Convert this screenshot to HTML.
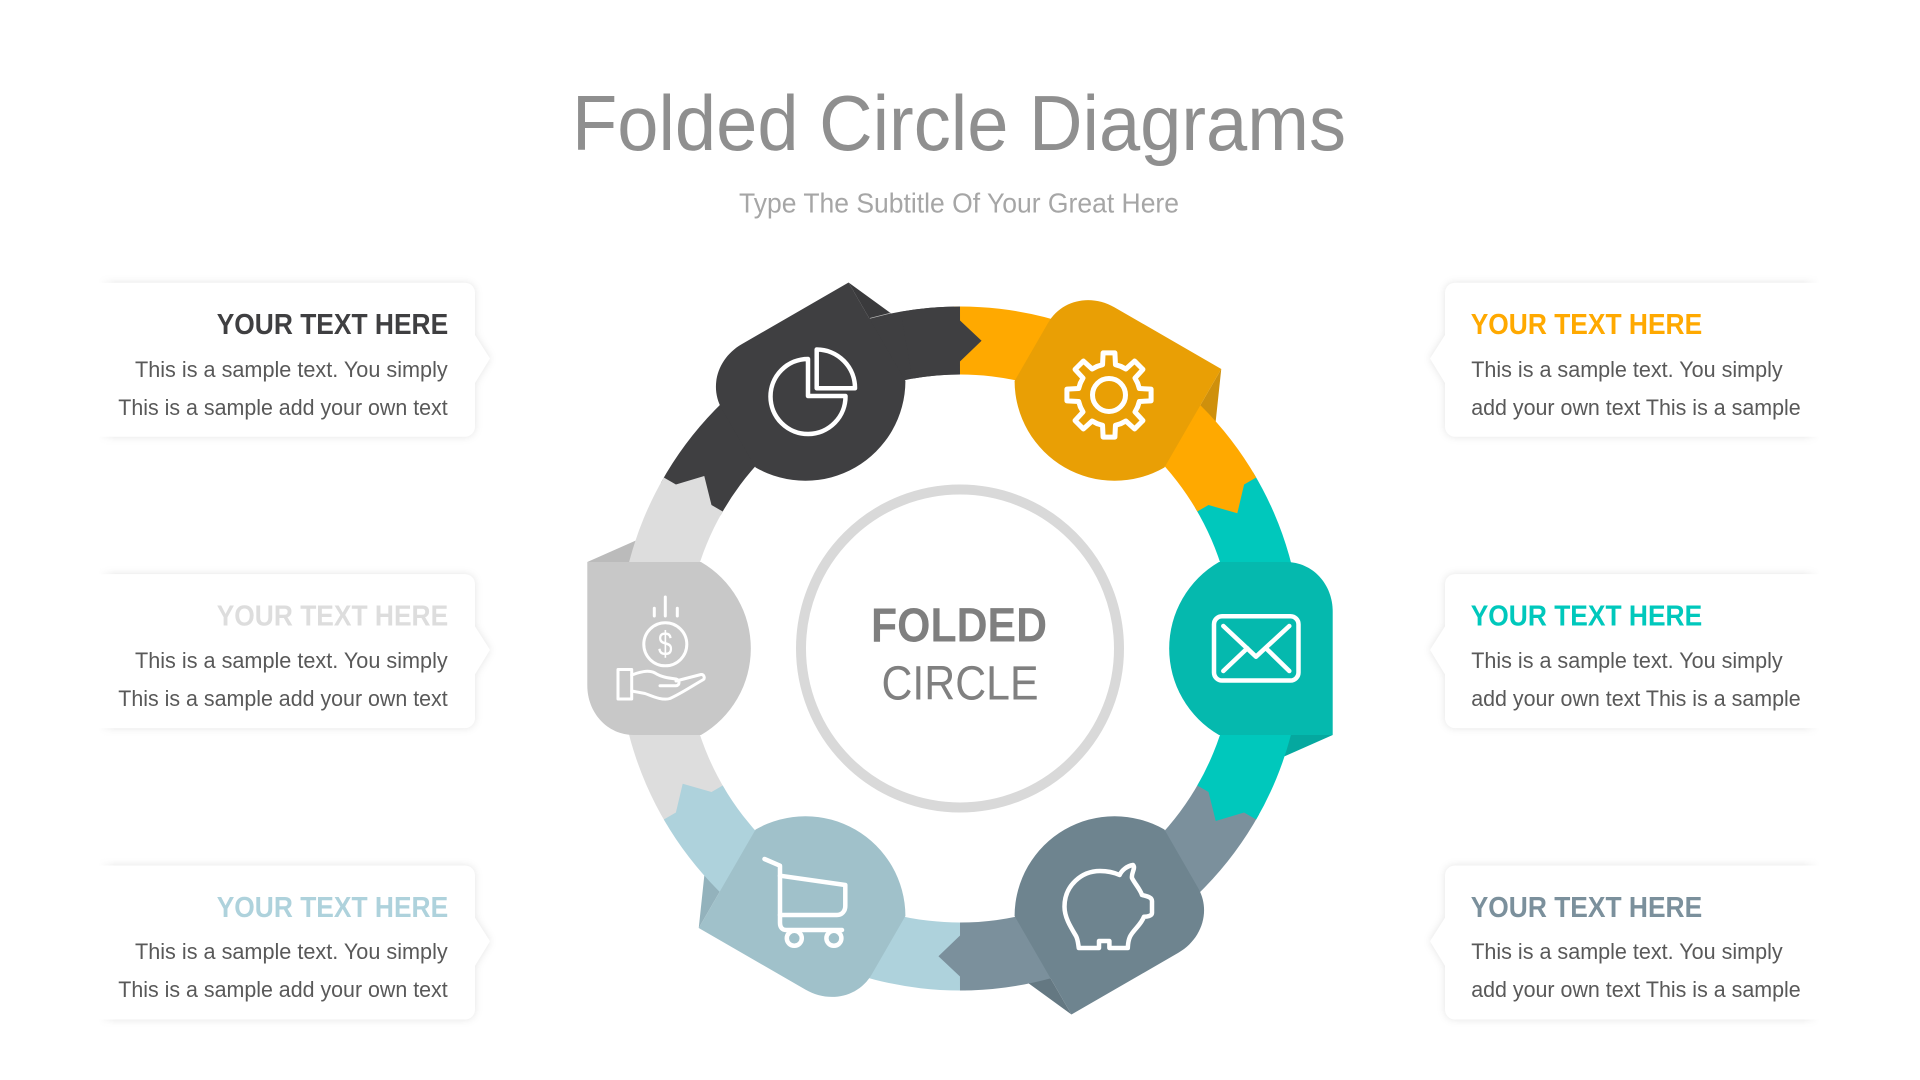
<!DOCTYPE html>
<html>
<head>
<meta charset="utf-8">
<title>Folded Circle Diagrams</title>
<style>
html,body{margin:0;padding:0;background:#fff;width:1920px;height:1080px;overflow:hidden}
svg{display:block}
text{font-family:"Liberation Sans",sans-serif}
.h{font-size:29px;font-weight:bold}
.b{font-size:22px;fill:#595959}
.ic{fill:none;stroke:#fff;stroke-width:4.5;stroke-linejoin:round;stroke-linecap:round}
.ic2{fill:none;stroke:#fff;stroke-width:3;stroke-linejoin:round;stroke-linecap:round}
.card{fill:#fff;filter:drop-shadow(0 0 4px rgba(0,0,0,.11))}
</style>
</head>
<body>
<svg width="1920" height="1080" viewBox="0 0 1920 1080" xmlns="http://www.w3.org/2000/svg">
<defs>
<linearGradient id="fl"><stop offset="0" stop-color="#fff"/><stop offset="0.45" stop-color="#fff"/><stop offset="1" stop-color="#fff" stop-opacity="0"/></linearGradient>
<linearGradient id="fr"><stop offset="0" stop-color="#fff" stop-opacity="0"/><stop offset="0.55" stop-color="#fff"/><stop offset="1" stop-color="#fff"/></linearGradient>
<path id="seg" d="M-5.97,-341.95 A342,342 0 0 1 296.2,-171 L284.1,-164 L277.3,-135.2 L248.5,-143.5 L237.3,-137 A274,274 0 0 0 -4.78,-273.96 Z"/>
<path id="node" d="M259,-86.5 H326 C353,-86.5 372.7,-64 372.7,-37 V86.5 H259 A100,100 0 0 1 259,-86.5 Z"/>
<path id="fold" d="M372.7,86.5 L324.7,107.8 L310,107.8 L310,86.5 Z"/>
<path id="card" d="M95,282.7 H465 a10,10 0 0 1 10,10 V335 L490,358.5 L475,383 V426.7 a10,10 0 0 1 -10,10 H95 Z"/>
<path id="cardr" d="M1825,282.7 H1455 a10,10 0 0 0 -10,10 V335 L1430,358.5 L1445,383 V426.7 a10,10 0 0 0 10,10 H1825 Z"/>
<polyline id="tooth" points="-11.86,-28.64 -6.45,-30.32 -5.91,-42.09 5.91,-42.09 6.45,-30.32 11.86,-28.64"/>
</defs>

<!-- Title -->
<text x="572" y="150" font-size="78" fill="#8f8f8f" textLength="774" lengthAdjust="spacingAndGlyphs">Folded Circle Diagrams</text>
<text x="739" y="212.5" font-size="28" fill="#a6a6a6" textLength="440" lengthAdjust="spacingAndGlyphs">Type The Subtitle Of Your Great Here</text>

<!-- Fold triangles, beneath the ring -->
<g transform="translate(960,648.5)">
<use href="#fold" transform="rotate(0)" fill="#05A89F"/>
<use href="#fold" transform="rotate(-60)" fill="#CF900C"/>
<use href="#fold" transform="rotate(-120)" fill="#3A3A3C"/>
<use href="#fold" transform="rotate(180)" fill="#BBBBBB"/>
<use href="#fold" transform="rotate(120)" fill="#93B2BC"/>
<use href="#fold" transform="rotate(60)" fill="#647882"/>
</g>

<!-- Ring segments -->
<g transform="translate(960,648.5)">
<use href="#seg" transform="rotate(300)" fill="#3F3F41"/>
<use href="#seg" transform="rotate(240)" fill="#DDDDDD"/>
<use href="#seg" transform="rotate(180)" fill="#AED2DC"/>
<use href="#seg" transform="rotate(120)" fill="#7B909C"/>
<use href="#seg" transform="rotate(60)" fill="#00C8BC"/>
<use href="#seg" transform="rotate(0)" fill="#FFA900"/>
<path transform="rotate(300)" fill="#3F3F41" d="M262,-219.8 A342,342 0 0 1 296.2,-171 L284.1,-164 L277.3,-135.2 L248.5,-143.5 L237.3,-137 A274,274 0 0 0 209.9,-176.1 Z"/>
</g>

<!-- Nodes -->
<g transform="translate(960,648.5)">
<use href="#node" transform="rotate(0)" fill="#05B9AE"/>
<use href="#node" transform="rotate(-60)" fill="#E99F05"/>
<use href="#node" transform="rotate(-120)" fill="#3F3F41"/>
<use href="#node" transform="rotate(180)" fill="#C8C8C8"/>
<use href="#node" transform="rotate(120)" fill="#A0C1CA"/>
<use href="#node" transform="rotate(60)" fill="#6E848F"/>
</g>
<line x1="870" y1="318.3" x2="891" y2="313" stroke="#bdbdbd" stroke-width="0.7"/>

<!-- Center circle -->
<circle cx="960" cy="648.5" r="159" fill="#fff" stroke="#D9D9D9" stroke-width="10"/>
<text x="871" y="641.5" font-size="48" font-weight="bold" fill="#7f7f7f" textLength="176" lengthAdjust="spacingAndGlyphs">FOLDED</text>
<text x="881.5" y="699.3" font-size="48" fill="#808080" textLength="157" lengthAdjust="spacingAndGlyphs">CIRCLE</text>

<!-- Pie icon -->
<g class="ic">
<path d="M808,396 V359 A37.5,37.5 0 1 0 845.5,396 Z"/>
<path d="M816.7,388.3 V349.5 A38.5,38.5 0 0 1 855,388.3 Z"/>
</g>

<!-- Gear icon -->
<g class="ic" style="stroke-width:5" transform="translate(1109,395)">
<use href="#tooth" transform="rotate(0)"/>
<use href="#tooth" transform="rotate(45)"/>
<use href="#tooth" transform="rotate(90)"/>
<use href="#tooth" transform="rotate(135)"/>
<use href="#tooth" transform="rotate(180)"/>
<use href="#tooth" transform="rotate(225)"/>
<use href="#tooth" transform="rotate(270)"/>
<use href="#tooth" transform="rotate(315)"/>
<circle cx="0" cy="0" r="16.5"/>
</g>

<!-- Envelope icon -->
<g class="ic">
<rect x="1214" y="616.3" width="84.5" height="64.2" rx="8"/>
<path d="M1223.3,626 L1256,656.7 L1289.3,626"/>
<path d="M1223.3,671 L1247.3,648.3"/>
<path d="M1289.3,671 L1266,648.3"/>
</g>

<!-- Money icon -->
<g class="ic2">
<circle cx="665.3" cy="644.3" r="21.5"/>
<path d="M665.3,597 V616"/>
<path d="M654.3,608.3 V616"/>
<path d="M677.3,608.3 V616"/>
<rect x="618" y="669.5" width="13.7" height="29.5"/>
<path d="M631.7,675 C640,672 648,669.5 655,673 C661,677 668,678 676,679 C680,680 680,685.5 676,685.7 H660"/>
<path d="M676,681 L701,674.5 C704,674 705,678 703.5,679.5 C692,686 682,693 670,698.5 C662,701 652,696 645,693.5 L631.7,691"/>
</g>
<text x="658" y="655.5" font-size="34" fill="#fff" textLength="14.5" lengthAdjust="spacingAndGlyphs">$</text>

<!-- Cart icon -->
<g class="ic">
<path d="M764.5,859 L780,865.7 V923 C780,927 782,930 786,930 H842"/>
<path d="M780,875.7 L845.3,885 V906 C845.3,911 842,915 837,915 H780"/>
<circle cx="794.3" cy="938.3" r="7.5"/>
<circle cx="833.9" cy="938.3" r="7.5"/>
</g>

<!-- Piggy icon -->
<path class="ic" d="M1119.6,875 C1122,870 1127,866 1133,865 C1136,868 1131,873 1132,878 C1135,884 1140,889 1142,895 C1146,896 1152,897 1152,901 V913 C1152,916 1147,916.7 1144,916.7 C1141,925 1133,930 1130,936.7 C1128,941 1128,944 1127.8,948 H1109.4 V941 H1099 V948 H1078.8 C1078,943 1078,940 1076,936 C1070,926 1064.5,917 1064.5,906.7 C1064.5,885 1082,871 1100,871 C1107,871 1113,872 1119.6,875 Z"/>

<!-- Left cards -->
<g>
<use href="#card" class="card"/>
<rect x="85" y="270" width="30" height="180" fill="url(#fl)"/>
<text class="h" x="216.7" y="334" fill="#3F3F41" textLength="231.5" lengthAdjust="spacingAndGlyphs">YOUR TEXT HERE</text>
<text class="b" x="135" y="377.1" textLength="312.7" lengthAdjust="spacingAndGlyphs">This is a sample text. You simply</text>
<text class="b" x="118.3" y="415" textLength="329.4" lengthAdjust="spacingAndGlyphs">This is a sample add your own text</text>
</g>
<g transform="translate(0,291.4)">
<use href="#card" class="card"/>
<rect x="85" y="270" width="30" height="180" fill="url(#fl)"/>
<text class="h" x="216.7" y="334" fill="#DDDDDD" textLength="231.5" lengthAdjust="spacingAndGlyphs">YOUR TEXT HERE</text>
<text class="b" x="135" y="376.8" textLength="312.7" lengthAdjust="spacingAndGlyphs">This is a sample text. You simply</text>
<text class="b" x="118.3" y="414.6" textLength="329.4" lengthAdjust="spacingAndGlyphs">This is a sample add your own text</text>
</g>
<g transform="translate(0,582.8)">
<use href="#card" class="card"/>
<rect x="85" y="270" width="30" height="180" fill="url(#fl)"/>
<text class="h" x="216.7" y="334" fill="#AED2DC" textLength="231.5" lengthAdjust="spacingAndGlyphs">YOUR TEXT HERE</text>
<text class="b" x="135" y="376.2" textLength="312.7" lengthAdjust="spacingAndGlyphs">This is a sample text. You simply</text>
<text class="b" x="118.3" y="414" textLength="329.4" lengthAdjust="spacingAndGlyphs">This is a sample add your own text</text>
</g>

<!-- Right cards -->
<g>
<use href="#cardr" class="card"/>
<rect x="1803" y="270" width="30" height="180" fill="url(#fr)"/>
<text class="h" x="1470.7" y="334" fill="#FFA900" textLength="231.5" lengthAdjust="spacingAndGlyphs">YOUR TEXT HERE</text>
<text class="b" x="1471.2" y="377.1" textLength="311.5" lengthAdjust="spacingAndGlyphs">This is a sample text. You simply</text>
<text class="b" x="1471.2" y="415" textLength="329.5" lengthAdjust="spacingAndGlyphs">add your own text This is a sample</text>
</g>
<g transform="translate(0,291.4)">
<use href="#cardr" class="card"/>
<rect x="1803" y="270" width="30" height="180" fill="url(#fr)"/>
<text class="h" x="1470.7" y="334" fill="#00C8BC" textLength="231.5" lengthAdjust="spacingAndGlyphs">YOUR TEXT HERE</text>
<text class="b" x="1471.2" y="376.8" textLength="311.5" lengthAdjust="spacingAndGlyphs">This is a sample text. You simply</text>
<text class="b" x="1471.2" y="414.6" textLength="329.5" lengthAdjust="spacingAndGlyphs">add your own text This is a sample</text>
</g>
<g transform="translate(0,582.8)">
<use href="#cardr" class="card"/>
<rect x="1803" y="270" width="30" height="180" fill="url(#fr)"/>
<text class="h" x="1470.7" y="334" fill="#7B909C" textLength="231.5" lengthAdjust="spacingAndGlyphs">YOUR TEXT HERE</text>
<text class="b" x="1471.2" y="376.2" textLength="311.5" lengthAdjust="spacingAndGlyphs">This is a sample text. You simply</text>
<text class="b" x="1471.2" y="414" textLength="329.5" lengthAdjust="spacingAndGlyphs">add your own text This is a sample</text>
</g>
</svg>
</body>
</html>
